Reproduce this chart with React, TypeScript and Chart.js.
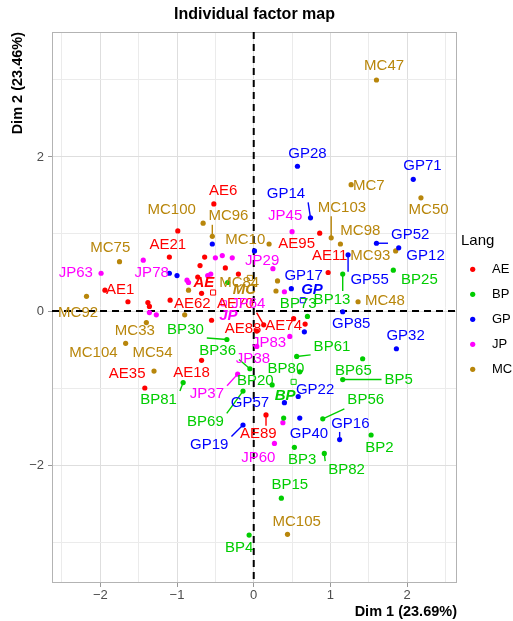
import React, { useEffect, useRef } from 'react';
import { Chart, registerables } from 'chart.js';

Chart.register(...registerables);

const FONT = '"Liberation Sans", Arial, Helvetica, sans-serif';

// ---------- data ----------
const groups = ['AE', 'BP', 'GP', 'JP', 'MC'];
const groupColors = ['#FF0000', '#00CD00', '#0000FF', '#FF00FF', '#B8860B'];

const aeNames = ['AE6', '', '', '', '', '', '', '', 'AE21', 'AE1', '', '', '', 'AE62', '', 'AE70', 'AE74', '', 'AE88', 'AE18', 'AE35', 'AE89', 'AE95', 'AE11'];
const aeX = [-0.52, -0.99, -0.64, -0.70, -0.37, -0.20, -0.73, -0.68, -1.10, -1.94, -1.64, -1.38, -1.36, -1.09, -0.55, 0.13, 0.52, 0.67, 0.04, -0.68, -1.42, 0.16, 0.86, 0.97];
const aeY = [1.39, 1.04, 0.70, 0.59, 0.56, 0.48, 0.44, 0.23, 0.70, 0.27, 0.12, 0.11, 0.06, 0.14, -0.12, -0.18, -0.10, -0.17, -0.26, -0.64, -1.00, -1.35, 1.01, 0.50];
const aeLabelX = [-0.40, null, null, null, null, null, null, null, -1.12, -1.74, null, null, null, -0.80, null, -0.24, 0.39, null, -0.14, -0.81, -1.65, 0.06, 0.56, 0.99];
const aeLabelY = [1.56, null, null, null, null, null, null, null, 0.86, 0.27, null, null, null, 0.09, null, 0.09, -0.19, null, -0.23, -0.80, -0.82, -1.60, 0.87, 0.71];

const bpNames = ['BP25', 'BP13', 'BP73', '', 'BP30', 'BP36', 'BP61', 'BP65', 'BP80', 'BP5', 'BP20', 'BP69', 'BP81', 'BP56', '', 'BP2', 'BP3', 'BP82', 'BP15', 'BP4'];
const bpX = [1.82, 1.16, 0.70, -0.34, -0.35, -0.05, 0.56, 1.42, 0.60, 1.16, 0.24, -0.14, -0.92, 0.90, 0.39, 1.53, 0.53, 0.92, 0.36, -0.06];
const bpY = [0.53, 0.48, -0.07, 0.37, -0.37, -0.75, -0.59, -0.62, -0.79, -0.89, -0.96, -1.04, -0.93, -1.40, -1.39, -1.61, -1.77, -1.85, -2.43, -2.91];
const bpLabelX = [2.16, 1.02, 0.58, null, -0.89, -0.47, 1.02, 1.30, 0.42, 1.89, 0.02, -0.63, -1.24, 1.46, null, 1.64, 0.63, 1.21, 0.47, -0.19];
const bpLabelY = [0.40, 0.15, 0.09, null, -0.24, -0.52, -0.46, -0.78, -0.75, -0.89, -0.91, -1.44, -1.15, -1.16, null, -1.78, -1.93, -2.06, -2.26, -3.08];

const gpNames = ['GP28', 'GP71', 'GP14', '', '', 'GP52', 'GP12', 'GP55', '', '', 'GP17', 'GP85', '', 'GP32', 'GP22', 'GP57', 'GP40', 'GP19', 'GP16'];
const gpX = [0.57, 2.08, 0.74, -0.54, 0.01, 1.60, 1.89, 1.23, -1.10, -1.00, 0.49, 1.16, 0.66, 1.86, 0.58, 0.40, 0.60, -0.14, 1.12];
const gpY = [1.88, 1.71, 1.21, 0.87, 0.78, 0.88, 0.82, 0.73, 0.49, 0.46, 0.29, -0.01, -0.27, -0.49, -1.11, -1.19, -1.39, -1.48, -1.67];
const gpLabelX = [0.70, 2.20, 0.42, null, null, 2.04, 2.24, 1.51, null, null, 0.65, 1.27, null, 1.98, 0.80, -0.05, 0.72, -0.58, 1.26];
const gpLabelY = [2.04, 1.89, 1.52, null, null, 0.99, 0.71, 0.40, null, null, 0.45, -0.17, null, -0.32, -1.02, -1.19, -1.60, -1.74, -1.46];

const jpNames = ['JP45', 'JP29', 'JP63', 'JP78', '', '', '', '', '', '', '', '', '', 'JP64', 'JP83', 'JP38', 'JP37', '', 'JP60'];
const jpX = [0.50, 0.25, -1.99, -1.44, -0.50, -0.41, -0.28, -0.60, -0.56, -0.87, -0.85, -1.36, -1.27, 0.40, 0.47, 0.04, -0.21, 0.38, 0.27];
const jpY = [1.03, 0.55, 0.49, 0.66, 0.69, 0.72, 0.69, 0.46, 0.48, 0.40, 0.37, -0.02, -0.05, 0.25, -0.33, -0.46, -0.82, -1.45, -1.72];
const jpLabelX = [0.41, 0.11, -2.32, -1.33, null, null, null, null, null, null, null, null, null, -0.07, 0.20, -0.01, -0.61, null, 0.06];
const jpLabelY = [1.24, 0.65, 0.50, 0.50, null, null, null, null, null, null, null, null, null, 0.09, -0.42, -0.62, -1.08, null, -1.91];

const mcNames = ['MC47', 'MC7', 'MC50', 'MC100', 'MC96', 'MC103', 'MC98', 'MC10', 'MC93', 'MC75', 'MC84', '', '', 'MC92', '', 'MC33', 'MC104', 'MC54', 'MC48', 'MC105'];
const mcX = [1.60, 1.27, 2.18, -0.66, -0.54, 1.01, 1.13, 0.20, 1.85, -1.75, 0.31, 0.29, -0.85, -2.18, -0.90, -1.40, -1.67, -1.30, 1.36, 0.44];
const mcY = [3.00, 1.64, 1.47, 1.14, 0.97, 0.95, 0.87, 0.87, 0.78, 0.64, 0.39, 0.26, 0.27, 0.19, -0.05, -0.15, -0.42, -0.78, 0.12, -2.90];
const mcLabelX = [1.70, 1.50, 2.28, -1.07, -0.33, 1.15, 1.39, -0.11, 1.52, -1.87, -0.19, null, null, -2.29, null, -1.55, -2.09, -1.32, 1.71, 0.56];
const mcLabelY = [3.18, 1.63, 1.31, 1.31, 1.23, 1.34, 1.04, 0.93, 0.71, 0.82, 0.36, null, null, -0.02, null, -0.26, -0.54, -0.54, 0.13, -2.74];

// group mean points (AE, BP, GP, JP, MC)
const meanX = [-0.53, 0.52, 0.64, -0.39, -0.05];
const meanY = [0.24, -0.92, 0.14, 0.10, 0.43];
const meanLabelX = [-0.65, 0.41, 0.76, -0.33, -0.12];
const meanLabelY = [0.36, -1.10, 0.28, -0.06, 0.27];

// labels joined to their point by a segment
const leaderLines = ['AE70', 'AE89', 'BP13', 'BP30', 'BP36', 'BP61', 'BP5', 'BP69', 'BP81', 'BP56', 'BP82', 'GP14', 'GP52', 'GP55', 'GP19', 'GP16', 'JP37', 'MC96', 'MC103'];

// axes
const xMin = -2.63, xMax = 2.65;
const yMin = -3.532, yMax = 3.623;
const xMajorTicks = [-2, -1, 0, 1, 2];
const xMinorTicks = [-2.5, -1.5, -0.5, 0.5, 1.5, 2.5];
const yMajorTicks = [-2, 0, 2];
const yMinorTicks = [-3, -1, 1, 3];

const titleText = 'Individual factor map';
const xTitle = 'Dim 1 (23.69%)';
const yTitle = 'Dim 2 (23.46%)';
const legendTitle = 'Lang';

// ---------- assembled ----------
const allNames = [aeNames, bpNames, gpNames, jpNames, mcNames];
const allX = [aeX, bpX, gpX, jpX, mcX];
const allY = [aeY, bpY, gpY, jpY, mcY];
const allLX = [aeLabelX, bpLabelX, gpLabelX, jpLabelX, mcLabelX];
const allLY = [aeLabelY, bpLabelY, gpLabelY, jpLabelY, mcLabelY];

const fmt = (v: number) => (v < 0 ? '\u2212' + Math.abs(v) : String(v));

const decorPlugin = {
  id: 'decor',
  beforeDatasetsDraw(chart: any) {
    const { ctx, chartArea: a, scales } = chart;
    const xs = scales.x, ys = scales.y;
    ctx.save();
    ctx.strokeStyle = '#B3B3B3';
    ctx.lineWidth = 1;
    ctx.strokeRect(a.left + 0.5, a.top + 0.5, a.right - a.left - 1, a.bottom - a.top - 1);
    ctx.strokeStyle = '#000';
    ctx.lineWidth = 2;
    ctx.setLineDash([7, 5]);
    const x0 = xs.getPixelForValue(0);
    const y0 = ys.getPixelForValue(0);
    ctx.beginPath();
    ctx.moveTo(x0, a.top);
    ctx.lineTo(x0, a.bottom);
    ctx.stroke();
    ctx.beginPath();
    ctx.moveTo(a.left, y0);
    ctx.lineTo(a.right, y0);
    ctx.stroke();
    ctx.restore();
  },
  afterDatasetsDraw(chart: any) {
    const { ctx, scales } = chart;
    const xs = scales.x, ys = scales.y;
    const CAP = 11;
    ctx.save();
    ctx.textAlign = 'center';
    ctx.textBaseline = 'middle';
    ctx.font = `15px ${FONT}`;
    // segments
    groups.forEach((g, gi) => {
      const color = groupColors[gi];
      allNames[gi].forEach((n, j) => {
        if (!n || !leaderLines.includes(n)) return;
        const px = xs.getPixelForValue(allX[gi][j]);
        const py = ys.getPixelForValue(allY[gi][j]);
        const lx = xs.getPixelForValue(allLX[gi][j] as number);
        const ly = ys.getPixelForValue(allLY[gi][j] as number);
        const w = ctx.measureText(n).width;
        const bx0 = lx - w / 2 - 3, bx1 = lx + w / 2 + 3;
        const by0 = ly - CAP / 2 - 3, by1 = ly + CAP / 2 + 3;
        const ex = Math.min(Math.max(px, bx0), bx1);
        const ey = Math.min(Math.max(py, by0), by1);
        ctx.strokeStyle = color;
        ctx.lineWidth = 1.4;
        ctx.beginPath();
        ctx.moveTo(px, py);
        ctx.lineTo(ex, ey);
        ctx.stroke();
      });
    });
    // texts
    groups.forEach((g, gi) => {
      ctx.fillStyle = groupColors[gi];
      ctx.font = `15px ${FONT}`;
      allNames[gi].forEach((n, j) => {
        if (!n) return;
        const lx = xs.getPixelForValue(allLX[gi][j] as number);
        const ly = ys.getPixelForValue(allLY[gi][j] as number);
        ctx.fillText(n, lx, ly);
      });
      ctx.font = `italic bold 15px ${FONT}`;
      ctx.fillText(g, xs.getPixelForValue(meanLabelX[gi]), ys.getPixelForValue(meanLabelY[gi]));
    });
    ctx.restore();
  },
  afterDraw(chart: any) {
    const { ctx, chartArea: a } = chart;
    const cy = (a.top + a.bottom) / 2;
    ctx.save();
    ctx.textAlign = 'left';
    ctx.textBaseline = 'middle';
    ctx.fillStyle = '#000';
    ctx.font = `15px ${FONT}`;
    ctx.fillText(legendTitle, a.right + 4, cy - 66.5);
    groups.forEach((g, i) => {
      const yy = cy - 38.2 + 25 * i;
      ctx.fillStyle = groupColors[i];
      ctx.beginPath();
      ctx.arc(a.right + 15.7, yy, 2.6, 0, Math.PI * 2);
      ctx.fill();
      ctx.fillStyle = '#000';
      ctx.font = `13px ${FONT}`;
      ctx.fillText(g, a.right + 35, yy);
    });
    ctx.restore();
  },
};

export default function App() {
  const ref = useRef<HTMLCanvasElement>(null);
  useEffect(() => {
    if (!ref.current) return;
    Chart.defaults.font.family = FONT;
    const datasets: any[] = groups.map((g, gi) => ({
      label: g,
      data: allX[gi].map((v, j) => ({ x: v, y: allY[gi][j] })),
      backgroundColor: groupColors[gi],
      borderWidth: 0,
      pointRadius: 2.6,
      pointStyle: 'circle',
    }));
    groups.forEach((g, gi) => {
      datasets.push({
        label: g + ' mean',
        data: [{ x: meanX[gi], y: meanY[gi] }],
        backgroundColor: 'rgba(255,255,255,0)',
        borderColor: groupColors[gi],
        borderWidth: 1,
        pointRadius: 3.6,
        pointStyle: 'rect',
      });
    });
    const chart = new Chart(ref.current, {
      type: 'scatter',
      data: { datasets },
      plugins: [decorPlugin],
      options: {
        responsive: false,
        animation: false,
        devicePixelRatio: 1,
        events: [],
        layout: { padding: { left: 0, right: 56, top: 0, bottom: 0 } },
        plugins: {
          legend: { display: false },
          tooltip: { enabled: false },
          title: {
            display: true,
            text: titleText,
            fullSize: false,
            color: '#000',
            font: { size: 16, weight: 'bold' },
            padding: { top: 4.7, bottom: 8.1 },
          },
        },
        scales: {
          x: {
            type: 'linear',
            min: xMin,
            max: xMax,
            afterBuildTicks: (s: any) => {
              s.ticks = [...xMinorTicks, ...xMajorTicks].sort((p, q) => p - q).map((v) => ({ value: v }));
            },
            afterFit: (s: any) => {
              s.height = 38;
            },
            ticks: {
              autoSkip: false,
              maxRotation: 0,
              padding: 1,
              color: '#4D4D4D',
              font: { size: 13 },
              callback: (v: any) => (xMajorTicks.includes(v) ? fmt(v) : ''),
            },
            grid: {
              color: (c: any) => (xMajorTicks.includes(c.tick?.value) ? '#DEDEDE' : '#EBEBEB'),
              tickColor: (c: any) => (xMajorTicks.includes(c.tick?.value) ? '#999999' : 'rgba(0,0,0,0)'),
              tickLength: 4,
              lineWidth: 1,
            },
            border: { display: false },
            title: {
              display: true,
              text: xTitle,
              align: 'end',
              color: '#000',
              font: { size: 14.5, weight: 'bold' },
              padding: { top: 0, bottom: 0.3 },
            },
          },
          y: {
            type: 'linear',
            min: yMin,
            max: yMax,
            afterBuildTicks: (s: any) => {
              s.ticks = [...yMinorTicks, ...yMajorTicks].sort((p, q) => p - q).map((v) => ({ value: v }));
            },
            afterFit: (s: any) => {
              s.width = 52;
            },
            ticks: {
              autoSkip: false,
              padding: 4,
              color: '#4D4D4D',
              font: { size: 13 },
              callback: (v: any) => (yMajorTicks.includes(v) ? fmt(v) : ''),
            },
            grid: {
              color: (c: any) => (yMajorTicks.includes(c.tick?.value) ? '#DEDEDE' : '#EBEBEB'),
              tickColor: (c: any) => (yMajorTicks.includes(c.tick?.value) ? '#999999' : 'rgba(0,0,0,0)'),
              tickLength: 4,
              lineWidth: 1,
            },
            border: { display: false },
            title: {
              display: true,
              text: yTitle,
              align: 'end',
              color: '#000',
              font: { size: 14.5, weight: 'bold' },
              padding: { top: 9.3, bottom: 0 },
            },
          },
        },
      } as any,
    });
    return () => chart.destroy();
  }, []);
  return (
    <div style={{ position: 'fixed', left: 0, top: 0, width: 513, height: 621, background: '#fff' }}>
      <canvas ref={ref} width={513} height={621} style={{ display: 'block', width: 513, height: 621 }} />
    </div>
  );
}
